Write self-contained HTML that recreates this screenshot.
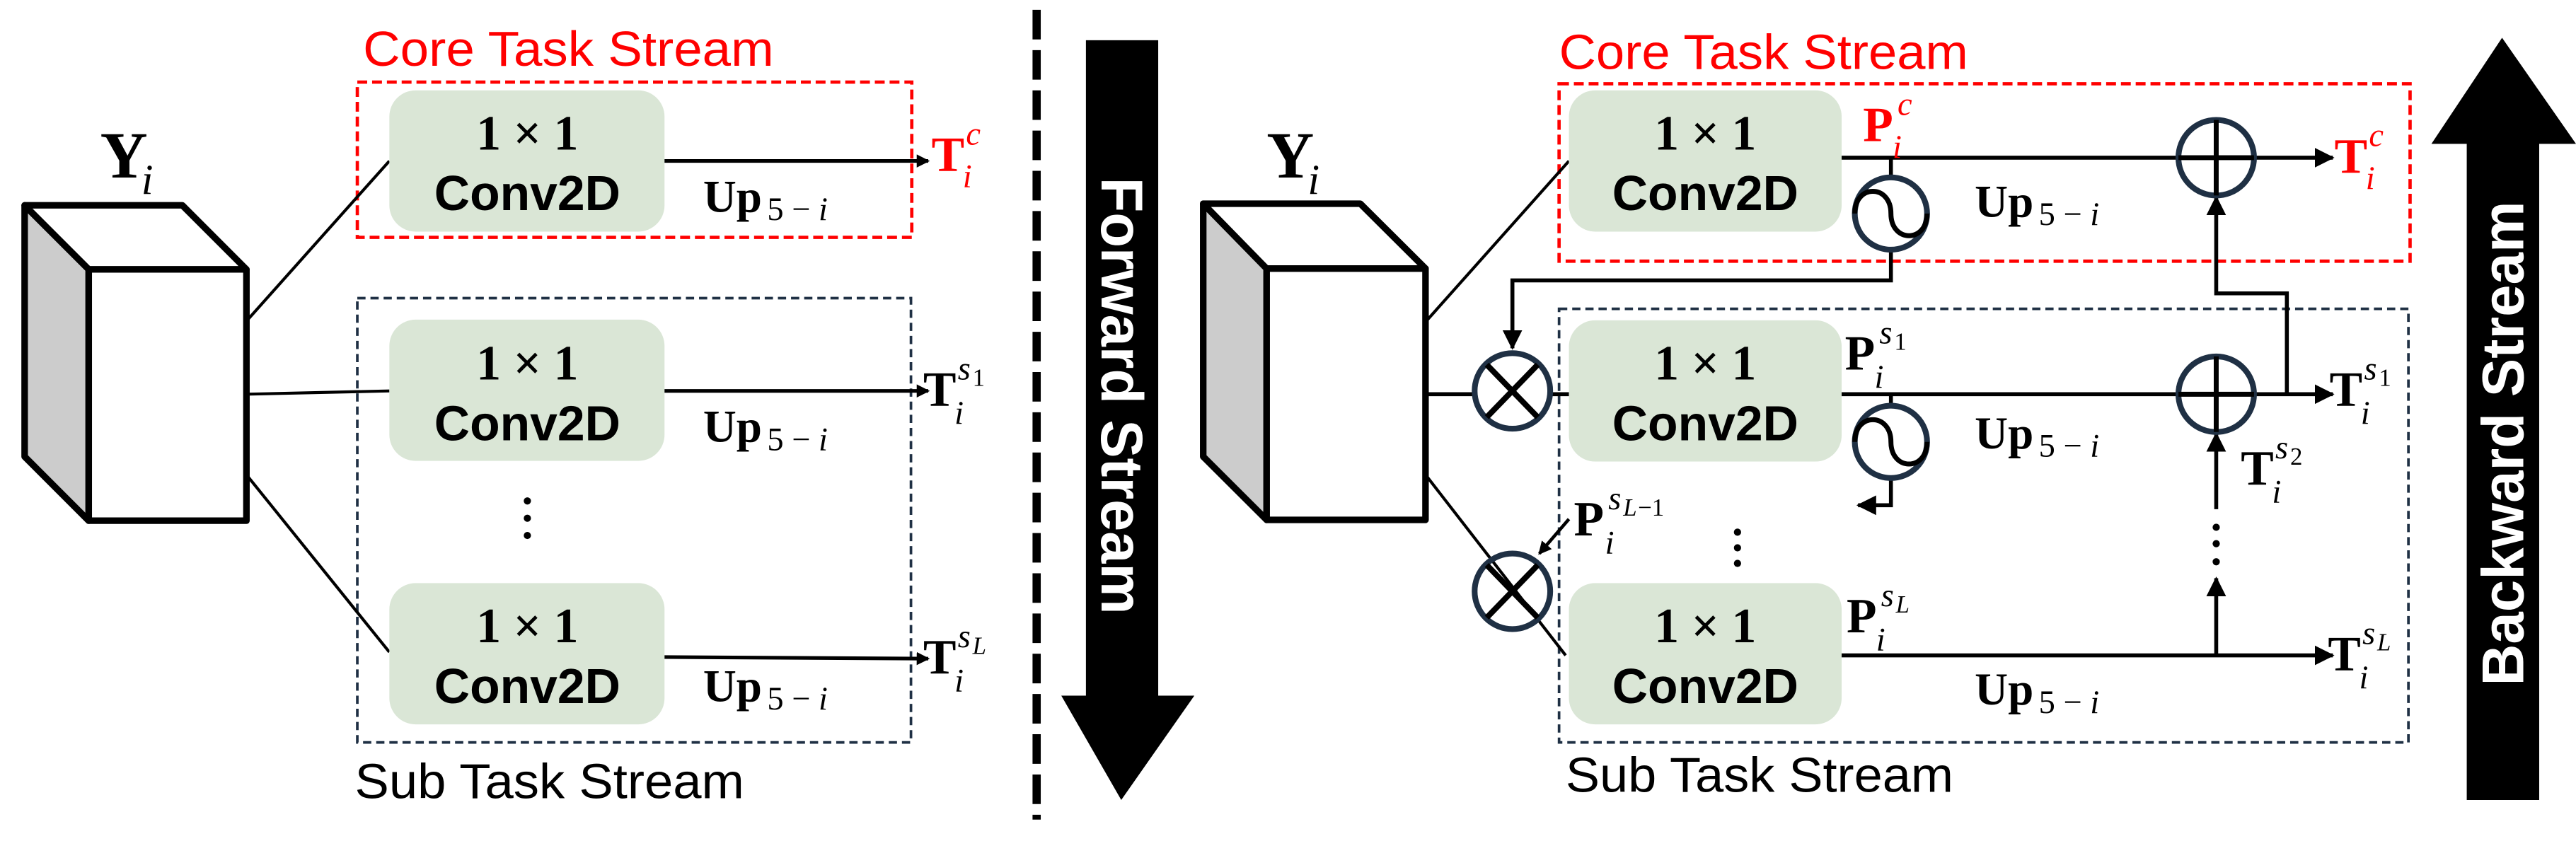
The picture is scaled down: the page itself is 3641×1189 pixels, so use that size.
<!DOCTYPE html>
<html><head><meta charset="utf-8"><style>
html,body{margin:0;padding:0;background:#fff;}
svg{display:block;}
.sans{font-family:"Liberation Sans",sans-serif;}
.serif{font-family:"Liberation Serif",serif;}
.cv{font-family:"Liberation Sans",sans-serif;font-weight:bold;font-size:30px;fill:#000;text-anchor:middle;}
.one{font-family:"Liberation Serif",serif;font-weight:bold;font-size:30px;fill:#000;text-anchor:middle;}
.B{font-family:"Liberation Serif",serif;font-weight:bold;font-size:30px;}
.it{font-family:"Liberation Serif",serif;font-style:italic;font-size:20px;}
.sm{font-family:"Liberation Serif",serif;font-size:15px;}
.up{font-family:"Liberation Serif",serif;font-weight:bold;font-size:28px;}
.ups{font-family:"Liberation Serif",serif;font-size:20px;}
</style></head><body>
<svg width="3641" height="1189" viewBox="0 0 1568 512" preserveAspectRatio="none" xmlns="http://www.w3.org/2000/svg">
<defs>
<marker id="ah" markerWidth="8" markerHeight="8" refX="7" refY="4" orient="auto" markerUnits="userSpaceOnUse"><path d="M0,0 L8,4 L0,8 z" fill="#000"/></marker>
<marker id="ahb" markerWidth="12" markerHeight="12" refX="11" refY="6" orient="auto" markerUnits="userSpaceOnUse"><path d="M0,0 L12,6 L0,12 z" fill="#000"/></marker>
</defs>

<!-- ================= LEFT PANEL ================= -->
<g>
  <g stroke="#000" stroke-width="4" stroke-linejoin="round">
    <polygon points="15,125 54,164 54,317 15,278" fill="#cccccc"/>
    <polygon points="15,125 111,125 150,164 54,164" fill="#fff"/>
    <rect x="54" y="164" width="96" height="153" fill="#fff"/>
  </g>
  <g>
    <text x="61" y="108" class="B" style="font-size:40px">Y</text>
    <text x="86" y="118" class="it" style="font-size:26px">i</text>
  </g>
  <text x="221" y="40" class="sans" font-size="30" fill="#ff0000" textLength="250" lengthAdjust="spacingAndGlyphs">Core Task Stream</text>
  <rect x="217.5" y="50" width="337.5" height="94.5" fill="none" stroke="#ff0000" stroke-width="2" stroke-dasharray="6,3"/>
  <rect x="217.5" y="181.5" width="337" height="270.5" fill="none" stroke="#1f3044" stroke-width="1.6" stroke-dasharray="5,3"/>
  <text x="216" y="486" class="sans" font-size="30" fill="#000" textLength="237" lengthAdjust="spacingAndGlyphs">Sub Task Stream</text>

  <g stroke="#000" stroke-width="1.8" fill="none">
    <line x1="150" y1="195.5" x2="237" y2="98"/>
    <line x1="150" y1="240" x2="237" y2="238"/>
    <line x1="150" y1="289" x2="237" y2="397"/>
  </g>

  <g>
    <rect x="237" y="55" width="167.5" height="86" rx="16" fill="#dae6d6"/>
    <text x="321" y="91" class="one">1 × 1</text>
    <text x="321" y="128" class="cv">Conv2D</text>
  </g>
  <g>
    <rect x="237" y="194.6" width="167.5" height="86" rx="16" fill="#dae6d6"/>
    <text x="321" y="231" class="one">1 × 1</text>
    <text x="321" y="268" class="cv">Conv2D</text>
  </g>
  <g>
    <rect x="237" y="355" width="167.5" height="86" rx="16" fill="#dae6d6"/>
    <text x="321" y="391" class="one">1 × 1</text>
    <text x="321" y="428" class="cv">Conv2D</text>
  </g>
  <g fill="#000">
    <circle cx="321" cy="305" r="2.2"/><circle cx="321" cy="315.5" r="2.2"/><circle cx="321" cy="326" r="2.2"/>
  </g>

  <g stroke="#000" stroke-width="2.2">
    <line x1="404.5" y1="98" x2="565" y2="98" marker-end="url(#ah)"/>
    <line x1="404.5" y1="238" x2="565" y2="238" marker-end="url(#ah)"/>
    <line x1="404.5" y1="400" x2="565" y2="401" marker-end="url(#ah)"/>
  </g>
  <g>
    <text x="428" y="129" class="up">Up</text><text x="467" y="134" class="ups">5 − <tspan font-style="italic">i</tspan></text>
    <text x="428" y="269" class="up">Up</text><text x="467" y="274" class="ups">5 − <tspan font-style="italic">i</tspan></text>
    <text x="428" y="427" class="up">Up</text><text x="467" y="432" class="ups">5 − <tspan font-style="italic">i</tspan></text>
  </g>
  <g fill="#ff0000">
    <text x="567" y="104" class="B">T</text><text x="588" y="88" class="it">c</text><text x="586" y="114" class="it">i</text>
  </g>
  <g>
    <text x="562" y="247" class="B">T</text><text x="583" y="231" class="it">s</text><text x="592" y="235" class="sm">1</text><text x="581" y="258" class="it">i</text>
  </g>
  <g>
    <text x="562" y="410" class="B">T</text><text x="583" y="394" class="it">s</text><text x="592" y="398" class="it" style="font-size:15px">L</text><text x="581" y="421" class="it">i</text>
  </g>
</g>

<!-- divider -->
<line x1="631" y1="6" x2="631" y2="499" stroke="#000" stroke-width="5" stroke-dasharray="18,6.5"/>

<!-- forward arrow -->
<g>
  <polygon points="661,24.5 705,24.5 705,423.5 727,423.5 682.5,487 646,423.5 661,423.5" fill="#000"/>
  <text transform="translate(683,241) rotate(90)" text-anchor="middle" dominant-baseline="central" class="sans" font-weight="bold" font-size="36" fill="#fff" textLength="266" lengthAdjust="spacingAndGlyphs">Forward Stream</text>
</g>

<!-- ================= RIGHT PANEL ================= -->
<g>
  <g stroke="#000" stroke-width="4" stroke-linejoin="round">
    <polygon points="732.4,124 771,163.5 771,316.5 732.4,278" fill="#cccccc"/>
    <polygon points="732.4,124 828,124 867.7,163.5 771,163.5" fill="#fff"/>
    <rect x="771" y="163.5" width="96.7" height="153" fill="#fff"/>
  </g>
  <g>
    <text x="771" y="108" class="B" style="font-size:40px">Y</text>
    <text x="796" y="118" class="it" style="font-size:26px">i</text>
  </g>
  <text x="949" y="42" class="sans" font-size="30" fill="#ff0000" textLength="249" lengthAdjust="spacingAndGlyphs">Core Task Stream</text>
  <rect x="949" y="51" width="518" height="108" fill="none" stroke="#ff0000" stroke-width="2" stroke-dasharray="6,3"/>
  <rect x="949" y="188" width="517" height="264" fill="none" stroke="#1f3044" stroke-width="1.6" stroke-dasharray="5,3"/>
  <text x="953" y="482" class="sans" font-size="30" fill="#000" textLength="236" lengthAdjust="spacingAndGlyphs">Sub Task Stream</text>

  <g stroke="#000" stroke-width="1.8" fill="none">
    <line x1="867.7" y1="196" x2="955" y2="98"/>
    <line x1="867.7" y1="240" x2="897" y2="240" stroke-width="2.4"/>
    <line x1="944" y1="240" x2="955" y2="240" stroke-width="2.4"/>
    <line x1="867.7" y1="289" x2="953" y2="399"/>
  </g>

  <g>
    <rect x="955" y="55" width="166" height="86" rx="16" fill="#dae6d6"/>
    <text x="1038" y="91" class="one">1 × 1</text>
    <text x="1038" y="128" class="cv">Conv2D</text>
  </g>
  <g>
    <rect x="955" y="195" width="166" height="86" rx="16" fill="#dae6d6"/>
    <text x="1038" y="231" class="one">1 × 1</text>
    <text x="1038" y="268" class="cv">Conv2D</text>
  </g>
  <g>
    <rect x="955" y="355" width="166" height="86" rx="16" fill="#dae6d6"/>
    <text x="1038" y="391" class="one">1 × 1</text>
    <text x="1038" y="428" class="cv">Conv2D</text>
  </g>
  <g fill="#000">
    <circle cx="1057.6" cy="324" r="2.2"/><circle cx="1057.6" cy="333.5" r="2.2"/><circle cx="1057.6" cy="343" r="2.2"/>
  </g>

  <!-- main lines -->
  <g stroke="#000" stroke-width="2.4" fill="none">
    <line x1="1121" y1="96" x2="1420" y2="96" marker-end="url(#ahb)"/>
    <line x1="1121" y1="240" x2="1420" y2="240" marker-end="url(#ahb)"/>
    <line x1="1121" y1="399" x2="1420" y2="399" marker-end="url(#ahb)"/>
    <polyline points="1151,96 1151,170.7 920.6,170.7 920.6,212" marker-end="url(#ahb)"/>
    <polyline points="1151,240 1151,307.6 1131,307.6" marker-end="url(#ahb)"/>
    <polyline points="1392,240 1392,178.6 1349,178.6 1349,120" marker-end="url(#ahb)"/>
    <line x1="1349" y1="310" x2="1349" y2="264" marker-end="url(#ahb)"/>
    <line x1="1349" y1="399" x2="1349" y2="352" marker-end="url(#ahb)"/>
    <line x1="955" y1="316" x2="937" y2="337" stroke-width="2" marker-end="url(#ah)"/>
  </g>
  <g fill="#000">
    <circle cx="1349" cy="321" r="2.2"/><circle cx="1349" cy="331" r="2.2"/><circle cx="1349" cy="342" r="2.2"/>
  </g>

  <!-- sine nodes -->
  <g>
    <circle cx="1151" cy="130" r="22" fill="#fff" stroke="#1f3044" stroke-width="3.5"/>
    <path d="M1129,130 C1129,112 1151,112 1151,130 C1151,148 1173,148 1173,130" fill="none" stroke="#000" stroke-width="3"/>
  </g>
  <g>
    <circle cx="1151" cy="269" r="22" fill="#fff" stroke="#1f3044" stroke-width="3.5"/>
    <path d="M1129,269 C1129,251 1151,251 1151,269 C1151,287 1173,287 1173,269" fill="none" stroke="#000" stroke-width="3"/>
  </g>
  <!-- plus nodes -->
  <g>
    <circle cx="1349" cy="96" r="23" fill="#fff" stroke="#1f3044" stroke-width="3.5"/>
    <line x1="1326" y1="96" x2="1372" y2="96" stroke="#000" stroke-width="3"/>
    <line x1="1349" y1="73" x2="1349" y2="119" stroke="#000" stroke-width="3"/>
  </g>
  <g>
    <circle cx="1349" cy="240" r="23" fill="#fff" stroke="#1f3044" stroke-width="3.5"/>
    <line x1="1326" y1="240" x2="1372" y2="240" stroke="#000" stroke-width="3"/>
    <line x1="1349" y1="217" x2="1349" y2="263" stroke="#000" stroke-width="3"/>
  </g>
  <!-- times nodes -->
  <g>
    <circle cx="920.6" cy="238" r="23" fill="#fff" stroke="#1f3044" stroke-width="3.5"/>
    <line x1="905" y1="222" x2="936" y2="254" stroke="#000" stroke-width="3.5"/>
    <line x1="936" y1="222" x2="905" y2="254" stroke="#000" stroke-width="3.5"/>
  </g>
  <g>
    <circle cx="920.6" cy="360" r="23" fill="none" stroke="#1f3044" stroke-width="3.5"/>
    <line x1="905" y1="344" x2="936" y2="376" stroke="#000" stroke-width="3.5"/>
    <line x1="936" y1="344" x2="905" y2="376" stroke="#000" stroke-width="3.5"/>
  </g>

  <!-- labels -->
  <g>
    <text x="1202" y="132" class="up">Up</text><text x="1241" y="137" class="ups">5 − <tspan font-style="italic">i</tspan></text>
    <text x="1202" y="273" class="up">Up</text><text x="1241" y="278" class="ups">5 − <tspan font-style="italic">i</tspan></text>
    <text x="1202" y="429" class="up">Up</text><text x="1241" y="434" class="ups">5 − <tspan font-style="italic">i</tspan></text>
  </g>
  <g fill="#ff0000">
    <text x="1134" y="86" class="B">P</text><text x="1155" y="70" class="it">c</text><text x="1152" y="96" class="it">i</text>
  </g>
  <g>
    <text x="1123" y="225" class="B">P</text><text x="1144" y="209" class="it">s</text><text x="1153" y="213" class="sm">1</text><text x="1141" y="236" class="it">i</text>
  </g>
  <g>
    <text x="1124" y="385" class="B">P</text><text x="1145" y="369" class="it">s</text><text x="1154" y="373" class="it" style="font-size:15px">L</text><text x="1142" y="396" class="it">i</text>
  </g>
  <g>
    <text x="958" y="326" class="B">P</text><text x="979" y="310" class="it">s</text><text x="988" y="314" class="it" style="font-size:15px">L</text><text x="997" y="314" class="sm">−1</text><text x="977" y="337" class="it">i</text>
  </g>
  <g fill="#ff0000">
    <text x="1421" y="105" class="B">T</text><text x="1442" y="89" class="it">c</text><text x="1440" y="115" class="it">i</text>
  </g>
  <g>
    <text x="1418" y="247" class="B">T</text><text x="1439" y="231" class="it">s</text><text x="1448" y="235" class="sm">1</text><text x="1437" y="258" class="it">i</text>
  </g>
  <g>
    <text x="1364" y="295" class="B">T</text><text x="1385" y="279" class="it">s</text><text x="1394" y="283" class="sm">2</text><text x="1383" y="306" class="it">i</text>
  </g>
  <g>
    <text x="1417" y="408" class="B">T</text><text x="1438" y="392" class="it">s</text><text x="1447" y="396" class="it" style="font-size:15px">L</text><text x="1436" y="419" class="it">i</text>
  </g>
</g>

<!-- backward arrow -->
<g>
  <polygon points="1501.5,487 1545.6,487 1545.6,87.6 1568,87.6 1523,23 1480,87.6 1501.5,87.6" fill="#000"/>
  <text transform="translate(1523.5,270) rotate(-90)" text-anchor="middle" dominant-baseline="central" class="sans" font-weight="bold" font-size="36" fill="#fff" textLength="295" lengthAdjust="spacingAndGlyphs">Backward Stream</text>
</g>
</svg>
</body></html>
